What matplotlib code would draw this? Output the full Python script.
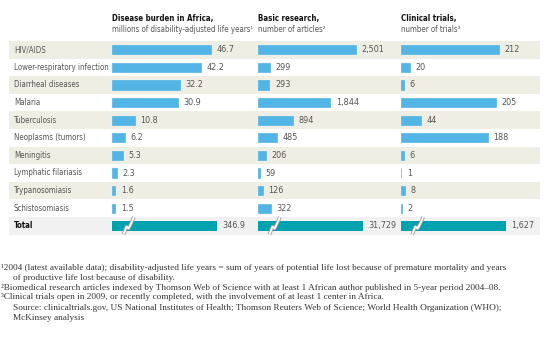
import matplotlib
matplotlib.use("Agg")
import matplotlib.pyplot as plt
from matplotlib import font_manager
from matplotlib.font_manager import FontProperties
from matplotlib.textpath import TextPath

# ---------------- data ----------------
diseases = ["HIV/AIDS", "Lower-respiratory infection", "Diarrheal diseases", "Malaria",
            "Tuberculosis", "Neoplasms (tumors)", "Meningitis", "Lymphatic filariasis",
            "Trypanosomiasis", "Schistosomiasis"]
burden = [46.7, 42.2, 32.2, 30.9, 10.8, 6.2, 5.3, 2.3, 1.6, 1.5]
articles = [2501, 299, 293, 1844, 894, 485, 206, 59, 126, 322]
trials = [212, 20, 6, 205, 44, 188, 6, 1, 8, 2]
totals = [346.9, 31729, 1627]
burden_labels = ["46.7", "42.2", "32.2", "30.9", "10.8", "6.2", "5.3", "2.3", "1.6", "1.5"]
article_labels = ["2,501", "299", "293", "1,844", "894", "485", "206", "59", "126", "322"]
trial_labels = ["212", "20", "6", "205", "44", "188", "6", "1", "8", "2"]
total_labels = ["346.9", "31,729", "1,627"]
headers = ["Disease burden in Africa,", "Basic research,", "Clinical trials,"]
subheaders = ["millions of disability-adjusted life years\u00b9", "number of articles\u00b2",
              "number of trials\u00b3"]
footnotes = [
    "\u00b92004 (latest available data); disability-adjusted life years = sum of years of potential life lost because of premature mortality and years",
    "of productive life lost because of disability.",
    "\u00b2Biomedical research articles indexed by Thomson Web of Science with at least 1 African author published in 5-year period 2004\u201308.",
    "\u00b3Clinical trials open in 2009, or recently completed, with the involvement of at least 1 center in Africa.",
]
source = ["Source: clinicaltrials.gov, US National Institutes of Health; Thomson Reuters Web of Science; World Health Organization (WHO);",
          "McKinsey analysis"]

# ---------------- fonts ----------------
def _w(f):
    w = f.weight
    if isinstance(w, str):
        w = font_manager.weight_dict.get(w, 400)
    return w

narrow_reg, narrow_bold = None, None
for f in font_manager.fontManager.ttflist:
    key = (f.name + " " + f.fname).lower()
    st = str(f.stretch).lower()
    is_narrow = ("narrow" in key or "condensed" in key or "cond" in st
                 or (st.isdigit() and int(st) < 500))
    if not is_narrow or f.style != "normal":
        continue
    if _w(f) >= 600:
        if narrow_bold is None:
            narrow_bold = f.fname
    elif 350 <= _w(f) <= 450:
        if narrow_reg is None:
            narrow_reg = f.fname

names = {f.name for f in font_manager.fontManager.ttflist}
base = "Roboto" if "Roboto" in names else "Liberation Sans"
if narrow_reg:
    REG = FontProperties(fname=narrow_reg)
    BOLD = FontProperties(fname=narrow_bold) if narrow_bold else FontProperties(fname=narrow_reg, weight="bold")
else:
    REG = FontProperties(family=base)
    BOLD = FontProperties(family=base, weight="bold")
SERIF = FontProperties(family="Liberation Serif")

def fit(text, prop, target_px, max_size):
    wpt = TextPath((0, 0), text, size=10, prop=prop).get_extents().width
    wpx = wpt * 100 / 72
    return min(max_size, 10 * target_px / wpx)

def P(prop, size):
    p = prop.copy()
    p.set_size(size)
    return p

LAB = fit("Lower-respiratory infection", REG, 94, 7.4)
VAL = fit("46.7", REG, 17, 7.6)
HDR = fit("Disease burden in Africa,", BOLD, 99, 8.2)
SUB = fit("millions of disability-adjusted life years\u00b9", REG, 140, 7.2)
FN = fit(footnotes[0], SERIF, 502, 7.0)

BAR = "#52b5e6"
TOTAL = "#00a2b0"
SHADE = "#efeee4"
TSHADE = "#f1f1f1"
TXT = "#555555"

W, H = 545, 348
fig = plt.figure(figsize=(W / 100, H / 100), dpi=100)
fig.patch.set_facecolor("white")

def fax(x0, y0, w, h):
    return fig.add_axes([x0 / W, 1 - (y0 + h) / H, w / W, h / H])

TOP = 41.0
ROWH = 17.6
n = len(diseases)

bg = fax(9, TOP, 531, ROWH * (n + 1))
bg.set_xlim(0, 1)
bg.set_ylim(n + 0.5, -0.5)
for i in range(0, n, 2):
    bg.axhspan(i - 0.5, i + 0.5, color=SHADE, lw=0)
bg.axhspan(n - 0.5, n + 0.5, color=TSHADE, lw=0)
for i, name in enumerate(diseases):
    bg.text(5 / 531, i, name, ha="left", va="center", color=TXT, fontproperties=P(REG, LAB))
bg.text(5 / 531, n, "Total", ha="left", va="center", color="#111111", fontproperties=P(BOLD, LAB))
bg.axis("off")

panels = [
    (112, 130, 99, burden, burden_labels),
    (258, 130, 98, articles, article_labels),
    (401, 139, 98, trials, trial_labels),
]
TOTAL_PX = [105, 105, 105]

for k, (x0, w, maxpx, vals, labs) in enumerate(panels):
    ax = fax(x0, TOP, w, ROWH * n)
    ax.patch.set_alpha(0)
    xmax = max(vals) * w / maxpx
    ax.set_xlim(0, xmax)
    ax.set_ylim(n - 0.5, -0.5)
    ys = list(range(n))
    ax.barh(ys, vals, height=0.52, color=BAR, edgecolor=BAR, lw=0.5)
    for y, v, l in zip(ys, vals, labs):
        ax.annotate(l, (v, y), xytext=(4, 0), textcoords="offset points",
                    ha="left", va="center", color=TXT, fontproperties=P(REG, VAL))
    ax.axis("off")

    fig.text(x0 / W, 1 - 19 / H, headers[k], ha="left", va="center",
             color="#111111", fontproperties=P(BOLD, HDR))
    fig.text(x0 / W, 1 - 30 / H, subheaders[k], ha="left", va="center",
             color=TXT, fontproperties=P(REG, SUB))

    tx = fax(x0, TOP + ROWH * n, w, ROWH)
    tx.patch.set_alpha(0)
    tmax = totals[k] * w / TOTAL_PX[k]
    tx.set_xlim(0, tmax)
    tx.set_ylim(0.5, -0.5)
    tx.barh([0], [totals[k]], height=0.55, color=TOTAL, lw=0)
    tx.annotate(total_labels[k], (totals[k], 0), xytext=(4, 0), textcoords="offset points",
                ha="left", va="center", color=TXT, fontproperties=P(REG, VAL))
    bx = 16 / w
    zx = [bx - 0.035, bx - 0.012, bx + 0.005, bx + 0.025, bx + 0.045]
    zy = [0.5, 0.05, 0.15, -0.15, -0.5]
    zx_data = [z * tmax for z in zx]
    tx.plot(zx_data, zy, color="#999999", lw=2.6, solid_capstyle="butt", clip_on=False)
    tx.plot(zx_data, zy, color="white", lw=1.4, solid_capstyle="butt", clip_on=False)
    tx.axis("off")

fy = [268, 278, 288, 297]
fxs = [1, 13, 1, 1]
for y, xpx, t in zip(fy, fxs, footnotes):
    fig.text(xpx / W, 1 - y / H, t, ha="left", va="center", color="#333333",
             fontproperties=P(SERIF, FN))
for y, t in zip([308, 318], source):
    fig.text(13 / W, 1 - y / H, t, ha="left", va="center", color="#333333",
             fontproperties=P(SERIF, FN))

fig.savefig("out.png", dpi=100, facecolor="white")
